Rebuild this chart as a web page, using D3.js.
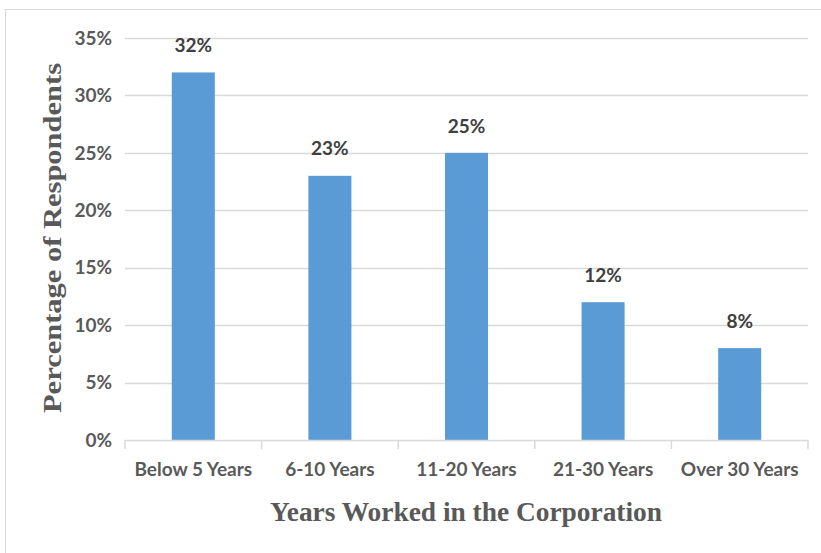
<!DOCTYPE html>
<html><head><meta charset="utf-8">
<script src="https://cdn.jsdelivr.net/npm/d3@7"></script>
<style>body{margin:0;background:#fff}</style>
</head><body>
<svg id="c" width="821" height="553"></svg>
<script>
const categories = ["Below 5 Years","6-10 Years","11-20 Years","21-30 Years","Over 30 Years"];
const values = [32,23,25,12,8];
const yTicks = [0,5,10,15,20,25,30,35];

const svg = d3.select("#c");
const W = 821, H = 553;
const m = {left:125, right:13, top:38, bottom:113};
const x = d3.scaleBand().domain(categories).range([m.left, W - m.right]).paddingInner(0.685).paddingOuter(0.3425);
const xb = d3.scaleBand().domain(categories).range([m.left, W - m.right]);
const y = d3.scaleLinear().domain([0,35]).range([H - m.bottom, m.top]);
const FONT = "Lato, 'Open Sans', sans-serif";

// border
svg.append("rect").attr("x",5.5).attr("y",9.5).attr("width",830).attr("height",560)
  .attr("fill","none").attr("stroke","#d9d9d9").attr("stroke-width",1);

// gridlines
svg.append("g").selectAll("line").data(yTicks.filter(d=>d>0)).join("line")
  .attr("x1",m.left).attr("x2",W-m.right)
  .attr("y1",d=>Math.round(y(d))+0.5).attr("y2",d=>Math.round(y(d))+0.5)
  .attr("stroke","#d9d9d9").attr("stroke-width",1.5);

// y tick labels
svg.append("g").selectAll("text").data(yTicks).join("text")
  .attr("x",112).attr("y",d=>y(d)).attr("dy","0.35em").attr("text-anchor","end")
  .attr("font-family",FONT).attr("font-weight","bold")
  .attr("font-size",19).attr("fill","#595959").text(d=>d+"%");

// bars
svg.append("g").selectAll("rect").data(values).join("rect")
  .attr("x",(d,i)=>x(categories[i])).attr("width",x.bandwidth())
  .attr("y",d=>y(d)).attr("height",d=>y(0)-y(d)).attr("fill","#5b9bd5");

// x axis
const xAxis = d3.axisBottom(xb).tickSize(0).tickFormat("");
const gx = svg.append("g").attr("transform",`translate(0,${y(0)})`).call(xAxis);
gx.select(".domain").attr("stroke","#d9d9d9").attr("stroke-width",1.5);
const bounds = categories.map(c=>xb(c)).concat([W-m.right]);
gx.selectAll(".bt").data(bounds).join("line").attr("class","bt")
  .attr("x1",d=>d).attr("x2",d=>d).attr("y1",0).attr("y2",9)
  .attr("stroke","#d9d9d9").attr("stroke-width",1.5);

// x labels
svg.append("g").selectAll("text").data(categories).join("text")
  .attr("x",d=>xb(d)+xb.bandwidth()/2).attr("y",469).attr("dy","0.35em").attr("text-anchor","middle")
  .attr("font-family",FONT).attr("font-weight","bold")
  .attr("font-size",19).attr("fill","#595959").text(d=>d);

// value labels
svg.append("g").selectAll("text").data(values).join("text")
  .attr("x",(d,i)=>x(categories[i])+x.bandwidth()/2).attr("y",d=>y(d)-27).attr("dy","0.35em")
  .attr("text-anchor","middle")
  .attr("font-family",FONT).attr("font-weight","bold")
  .attr("font-size",19).attr("fill","#404040").text(d=>d+"%");

// axis titles
svg.append("text").attr("x",466).attr("y",512).attr("dy","0.35em").attr("text-anchor","middle")
  .attr("font-family","'Liberation Serif', 'Times New Roman', serif").attr("font-weight","bold")
  .attr("font-size",27).attr("fill","#595959")
  .attr("textLength",392).attr("lengthAdjust","spacingAndGlyphs")
  .text("Years Worked in the Corporation");
svg.append("text").attr("transform","translate(52,238) rotate(-90)").attr("dy","0.35em").attr("text-anchor","middle")
  .attr("font-family","'Liberation Serif', 'Times New Roman', serif").attr("font-weight","bold")
  .attr("font-size",25).attr("fill","#595959")
  .attr("textLength",350).attr("lengthAdjust","spacingAndGlyphs")
  .text("Percentage of Respondents");
</script>
</body></html>
